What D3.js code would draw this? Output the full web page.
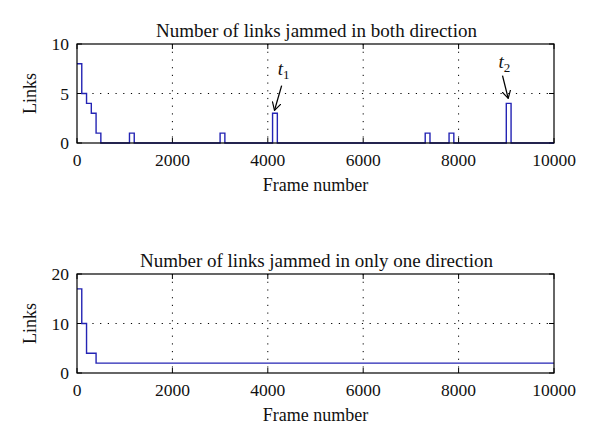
<!DOCTYPE html>
<html>
<head>
<meta charset="utf-8">
<script src="https://cdn.jsdelivr.net/npm/d3@7"></script>
<style>
  body { margin: 0; background: #fff; }
  text { font-family: "Liberation Serif", "DejaVu Serif", serif; fill: #111; }
  .grid line { stroke: #000; stroke-width: 1; stroke-dasharray: 1.2,6.5; }
  .trace { fill: none; stroke: #2424b4; stroke-width: 1.4; }
  .box { fill: none; stroke: #000; stroke-width: 1.2; }
</style>
</head>
<body>
<div id="chart"></div>
<script>
// top panel: links jammed in both directions (step-after)
var bothFrames = [0, 100, 200, 300, 400, 500, 1100, 1200, 3000, 3100, 4100, 4200, 7300, 7400, 7800, 7900, 9000, 9100, 10000];
var bothLinks  = [8, 5, 4, 3, 1, 0, 1, 0, 1, 0, 3, 0, 1, 0, 1, 0, 4, 0, 0];

// bottom panel: links jammed in only one direction
var oneFrames = [0, 100, 200, 400, 10000];
var oneLinks  = [17, 10, 4, 2, 2];

var xTicks = [0, 2000, 4000, 6000, 8000, 10000];
var topYTicks = [0, 5, 10];
var botYTicks = [0, 10, 20];

// annotations in data units: text spot, arrow start, arrow tip
var topNotes = [
    {t: "t", sub: "1", tx: 4330, ty: 6.9, x1: 4290, y1: 5.8, x2: 4140, y2: 3.3},
    {t: "t", sub: "2", tx: 8960, ty: 7.6, x1: 8920, y1: 6.8, x2: 9040, y2: 4.5}
];

var width = 600, height = 448;
var svg = d3.select("#chart").append("svg")
    .attr("width", width)
    .attr("height", height);

var defs = svg.append("defs");
defs.append("marker")
    .attr("id", "vhead")
    .attr("viewBox", "0 0 10 10")
    .attr("refX", 9).attr("refY", 5)
    .attr("markerWidth", 9).attr("markerHeight", 9)
    .attr("markerUnits", "userSpaceOnUse")
    .attr("orient", "auto")
  .append("path")
    .attr("d", "M0,0 L9,5 L0,10")
    .attr("fill", "none")
    .attr("stroke", "#000")
    .attr("stroke-width", 1.3);

function panel(top, title, frames, vals, yTicks, yMax, notes) {
    var left = 77, right = 554, bottom = top + 99;
    var x = d3.scaleLinear().domain([0, 10000]).range([left, right]);
    var y = d3.scaleLinear().domain([0, yMax]).range([bottom, top]);
    var g = svg.append("g");

    // dotted grid at inner ticks
    var grid = g.append("g").attr("class", "grid");
    grid.selectAll(".gx")
        .data(xTicks.slice(1, -1))
        .enter().append("line")
            .attr("x1", function(d) { return x(d); })
            .attr("x2", function(d) { return x(d); })
            .attr("y1", top).attr("y2", bottom);
    grid.selectAll(".gy")
        .data(yTicks.slice(1, -1))
        .enter().append("line")
            .attr("y1", function(d) { return y(d); })
            .attr("y2", function(d) { return y(d); })
            .attr("x1", left).attr("x2", right);

    // inward ticks on all four sides
    var tl = 5;
    var ax = g.append("g");
    ax.selectAll(".tb").data(xTicks).enter().append("line")
        .attr("x1", function(d) { return x(d); }).attr("x2", function(d) { return x(d); })
        .attr("y1", bottom).attr("y2", bottom - tl)
        .attr("stroke", "#000");
    ax.selectAll(".tt").data(xTicks).enter().append("line")
        .attr("x1", function(d) { return x(d); }).attr("x2", function(d) { return x(d); })
        .attr("y1", top).attr("y2", top + tl)
        .attr("stroke", "#000");
    ax.selectAll(".tl").data(yTicks).enter().append("line")
        .attr("y1", function(d) { return y(d); }).attr("y2", function(d) { return y(d); })
        .attr("x1", left).attr("x2", left + tl)
        .attr("stroke", "#000");
    ax.selectAll(".tr").data(yTicks).enter().append("line")
        .attr("y1", function(d) { return y(d); }).attr("y2", function(d) { return y(d); })
        .attr("x1", right).attr("x2", right - tl)
        .attr("stroke", "#000");

    // tick labels
    ax.selectAll(".lx").data(xTicks).enter().append("text")
        .attr("x", function(d) { return x(d); })
        .attr("y", bottom + 23)
        .attr("text-anchor", "middle")
        .attr("font-size", 17.5)
        .text(function(d) { return d; });
    ax.selectAll(".ly").data(yTicks).enter().append("text")
        .attr("x", left - 8)
        .attr("y", function(d) { return y(d) + 6; })
        .attr("text-anchor", "end")
        .attr("font-size", 17.5)
        .text(function(d) { return d; });

    // step trace
    var line = d3.line()
        .x(function(d) { return x(d[0]); })
        .y(function(d) { return y(d[1]); })
        .curve(d3.curveStepAfter);
    g.append("path").attr("class", "trace")
        .attr("d", line(d3.zip(frames, vals)));

    g.append("rect").attr("class", "box")
        .attr("x", left).attr("y", top)
        .attr("width", right - left).attr("height", bottom - top);

    // labels
    g.append("text")
        .attr("x", (left + right) / 2 + 1).attr("y", top - 7)
        .attr("text-anchor", "middle")
        .attr("font-size", 19)
        .text(title);
    g.append("text")
        .attr("x", (left + right) / 2).attr("y", bottom + 48)
        .attr("text-anchor", "middle")
        .attr("font-size", 18)
        .text("Frame number");
    g.append("text")
        .attr("transform", "translate(36," + ((top + bottom) / 2) + ") rotate(-90)")
        .attr("text-anchor", "middle")
        .attr("font-size", 18)
        .text("Links");

    (notes || []).forEach(function(n) {
        var t = g.append("text")
            .attr("x", x(n.tx)).attr("y", y(n.ty))
            .attr("text-anchor", "middle")
            .attr("font-size", 19);
        t.append("tspan").attr("font-style", "italic").text(n.t);
        t.append("tspan").attr("font-size", 13).attr("dy", 4).text(n.sub);
        g.append("line")
            .attr("x1", x(n.x1)).attr("y1", y(n.y1))
            .attr("x2", x(n.x2)).attr("y2", y(n.y2))
            .attr("stroke", "#000").attr("stroke-width", 1.3)
            .attr("marker-end", "url(#vhead)");
    });
}

panel(44, "Number of links jammed in both direction", bothFrames, bothLinks, topYTicks, 10, topNotes);
panel(274, "Number of links jammed in only one direction", oneFrames, oneLinks, botYTicks, 20, null);
</script>
</body>
</html>
